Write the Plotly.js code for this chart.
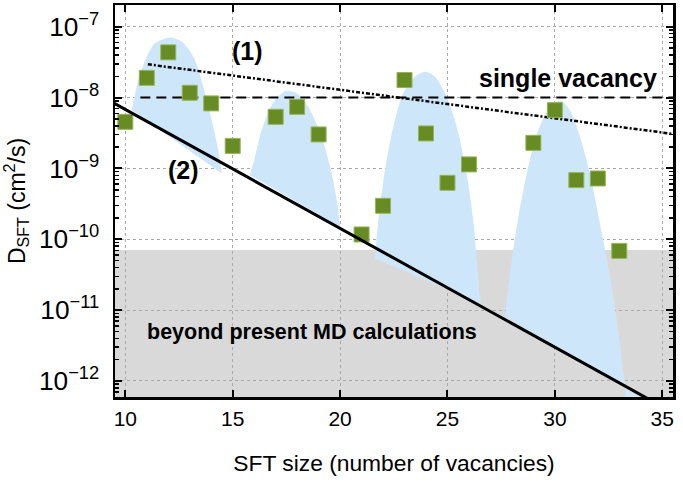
<!DOCTYPE html>
<html>
<head>
<meta charset="utf-8">
<script src="https://cdn.plot.ly/plotly-3.0.1.min.js"></script>
<style>html,body{margin:0;padding:0;background:#fff;}#chart{width:683px;height:484px;}</style>
</head>
<body>
<div id="chart"></div>
<script>
// Simulated SFT diffusivities (green squares)
var sftSize = [10, 11, 12, 13, 14, 15, 17, 18, 19, 21, 22, 23, 24, 25, 26, 29, 30, 31, 32, 33];
var dSFT = [4.55e-9, 1.9e-8, 4.35e-8, 1.17e-8, 8.28e-9, 2.08e-9, 5.36e-9, 7.41e-9, 3.02e-9, 1.17e-10,
            2.97e-10, 1.77e-8, 3.12e-9, 6.27e-10, 1.14e-9, 2.30e-9, 6.65e-9, 6.84e-10, 7.22e-10, 6.86e-11];

// Blue hump outlines
var hump1X = [10.30, 10.61, 11.00, 11.38, 12.08, 12.63, 13.17, 13.63, 14.02, 14.33, 14.49];
var hump1Y = [6.64e-9, 1.77e-8, 3.77e-8, 5.83e-8, 7.08e-8, 6.14e-8, 3.77e-8, 1.42e-8, 4.81e-9, 1.81e-9, 8.49e-10];
var hump2X = [15.80, 16.04, 16.35, 16.82, 17.28, 17.51, 17.98, 18.52, 19.14, 19.61, 19.89, 20.00];
var hump2Y = [8.04e-10, 1.46e-9, 3.48e-9, 7.83e-9, 1.15e-8, 1.25e-8, 1.15e-8, 7.41e-9, 2.79e-9, 8.49e-10, 2.87e-10, 1.50e-10];
var hump3X = [21.62, 21.78, 22.09, 22.48, 22.94, 23.49, 23.95, 24.42, 24.96, 25.43, 25.89, 26.20, 26.43, 26.55];
var hump3Y = [5.36e-11, 1.86e-10, 9.46e-10, 3.87e-9, 1.15e-8, 1.97e-8, 2.31e-8, 1.97e-8, 1.03e-8, 3.87e-9, 8.49e-10, 1.86e-10, 2.94e-11, 1.24e-11];
var hump4X = [27.68, 27.91, 28.30, 28.76, 29.23, 29.69, 30.24, 30.70, 31.17, 31.63, 32.10, 32.57, 32.95, 33.26, 33.35, 34.15];
var hump4Y = [8.20e-12, 3.29e-11, 2.07e-10, 1.05e-9, 3.48e-9, 6.65e-9, 9.12e-9, 6.65e-9, 2.79e-9, 8.49e-10, 1.67e-10, 2.94e-11, 5.20e-12, 9.18e-13, 5.5e-13, 5.5e-13];

// Reference lines
var line1X = [11.05, 35.5];
var line1Y = [2.95e-8, 3.07e-9];
var vacX = [10.7, 35.5];
var vacY = [1e-8, 1e-8];
var line2X = [9.0, 35.0];
var line2Y = [1.0e-8, 4.34e-13];

// MD limit (grey region top)
var mdLimit = 7.06e-11;
var mdBottom = 1e-13;

// Axis ticks
var xTicks = [10, 15, 20, 25, 30, 35];
var yDecadeStep = 1; // one major tick per decade: 10^-12 ... 10^-7

// Label positions
var labels = [
  {text: '<b>(1)</b>', x: 15.69, y: 4.54e-8, size: 25},
  {text: '<b>(2)</b>', x: 12.73, y: 9.46e-10, size: 25},
  {text: '<b>single vacancy</b>', x: 30.59, y: 1.92e-8, size: 25},
  {text: '<b>beyond present MD calculations</b>', x: 18.68, y: 4.92e-12, size: 21.5}
];

var blue = 'rgb(205,230,250)';
function hump(x, y) {
  return {x: x, y: y, type: 'scatter', mode: 'lines', fill: 'toself', fillcolor: blue,
          line: {width: 0, color: blue, shape: 'spline', smoothing: 0.8}, hoverinfo: 'skip', showlegend: false};
}

var traces = [
  hump(hump1X, hump1Y), hump(hump2X, hump2Y), hump(hump3X, hump3Y), hump(hump4X, hump4Y),
  {x: vacX, y: vacY, type: 'scatter', mode: 'lines', line: {color: 'black', width: 2, dash: '10px,6px'}, showlegend: false},
  {x: line1X, y: line1Y, type: 'scatter', mode: 'lines', line: {color: 'black', width: 2.5, dash: '4px,2px,2px,2px'}, showlegend: false},
  {x: sftSize, y: dSFT, type: 'scatter', mode: 'markers',
   marker: {symbol: 'square', size: 15, color: 'rgb(104,140,36)', line: {color: 'rgb(150,180,90)', width: 1}}, showlegend: false},
  {x: line2X, y: line2Y, type: 'scatter', mode: 'lines', line: {color: 'black', width: 3}, showlegend: false}
];

var font = 'Liberation Sans, Arial, Helvetica, sans-serif';
var layout = {
  width: 683, height: 484,
  margin: {l: 115, r: 10, t: 5, b: 87},
  paper_bgcolor: '#fff', plot_bgcolor: '#fff',
  font: {family: font, color: 'black'},
  showlegend: false,
  xaxis: {
    range: [9.52, 35.5], tickmode: 'array', tickvals: xTicks, ticks: 'inside', ticklen: 7, tickwidth: 2, tickcolor: 'black',
    showline: true, linewidth: 2.5, linecolor: 'black', mirror: 'allticks',
    showgrid: true, gridcolor: '#aaaaaa', griddash: 'dot', gridwidth: 1, zeroline: false,
    tickfont: {size: 21}, ticklabelstandoff: 1,
    title: {text: 'SFT size (number of vacancies)', font: {size: 22.8}, standoff: 27}
  },
  yaxis: {
    type: 'log', range: [-12.226, -6.693], tickmode: 'linear', tick0: 0, dtick: yDecadeStep,
    exponentformat: 'power', showexponent: 'all',
    ticks: 'inside', ticklen: 7, tickwidth: 2, tickcolor: 'black',
    minor: {ticks: 'inside', dtick: 'D1', ticklen: 4, tickwidth: 1.5, tickcolor: 'black', showgrid: false},
    showline: true, linewidth: 2.5, linecolor: 'black', mirror: 'allticks',
    showgrid: true, gridcolor: '#aaaaaa', griddash: 'dot', gridwidth: 1, zeroline: false,
    tickfont: {size: 21}, ticklabelstandoff: 9,
    title: {text: 'D<sub>SFT</sub> (cm<sup>2</sup>/s)', font: {size: 23}, standoff: 10}
  },
  shapes: [{
    type: 'rect', layer: 'below', xref: 'paper', x0: 0, x1: 1, yref: 'y', y0: mdBottom, y1: mdLimit,
    fillcolor: 'rgb(217,217,217)', line: {width: 0}
  }],
  annotations: labels.map(function (l) {
    return {text: l.text, x: l.x, y: Math.log10(l.y), xref: 'x', yref: 'y', showarrow: false,
            font: {size: l.size, family: font, color: 'black'}};
  })
};

Plotly.newPlot('chart', traces, layout, {displayModeBar: false, staticPlot: true});
</script>
</body>
</html>
